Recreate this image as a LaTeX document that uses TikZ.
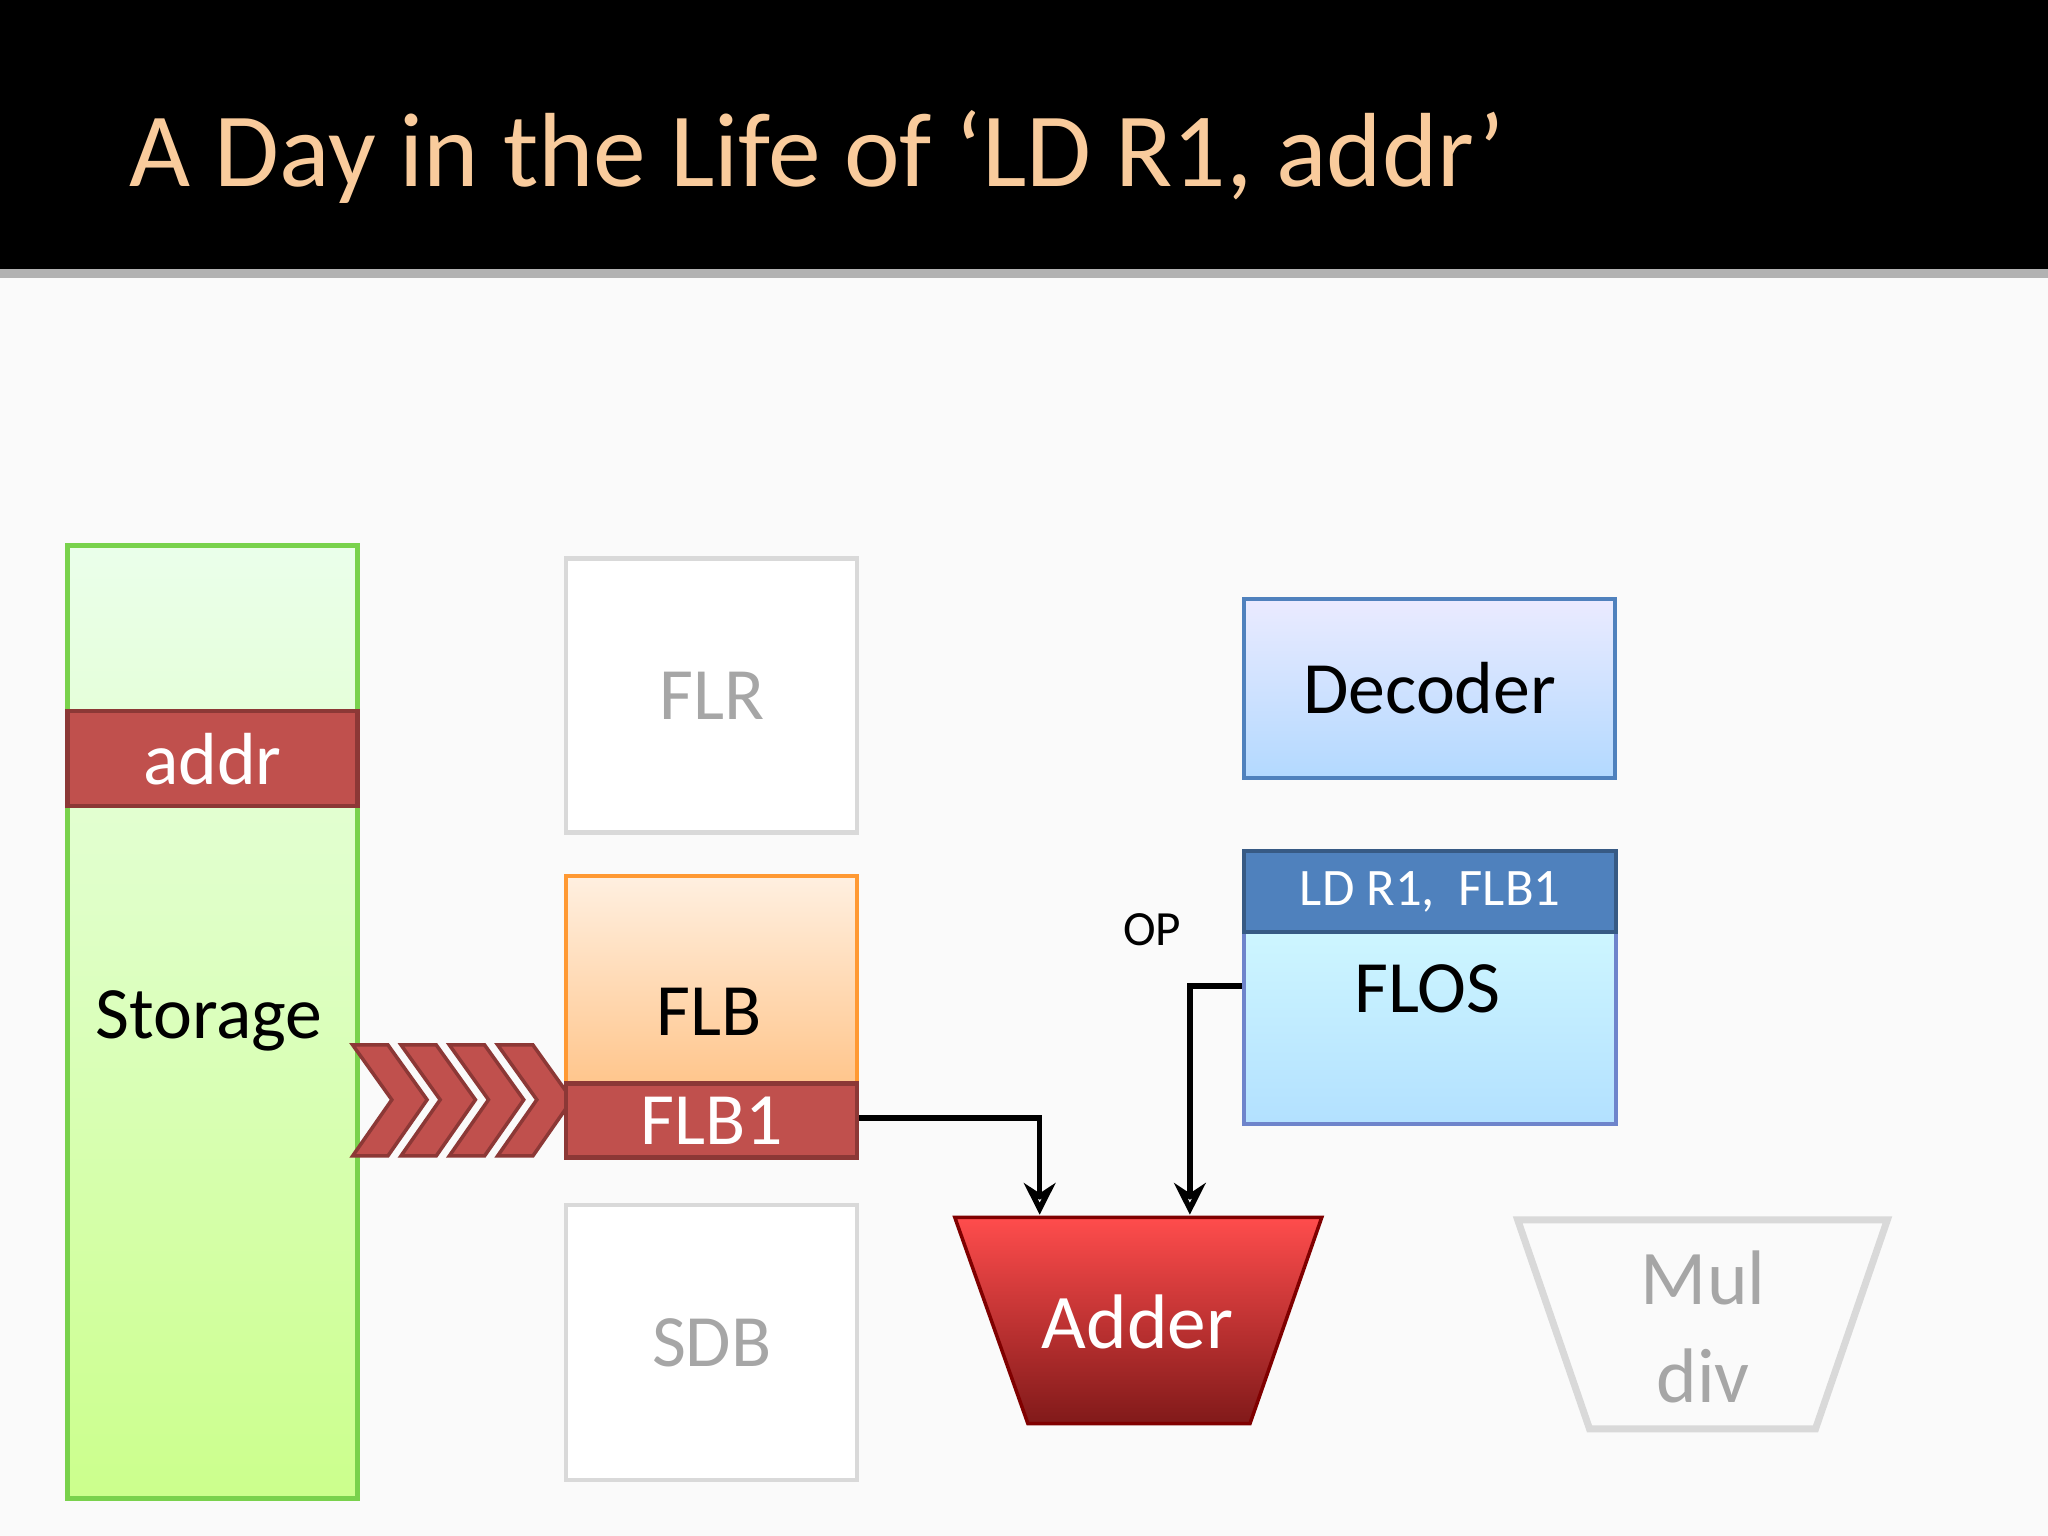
\documentclass[tikz,border=0pt]{standalone}
\usepackage{fontspec}
\setmainfont{Carlito}
\usetikzlibrary{arrows.meta}
\definecolor{titlefg}{HTML}{F9CB9C}
\definecolor{redfill}{HTML}{C0504D}
\definecolor{redline}{HTML}{8C3836}
\definecolor{greyline}{HTML}{D9D9D9}
\definecolor{greytext}{HTML}{A6A6A6}
\definecolor{blueline}{HTML}{4F81BD}

\tikzset{
  box/.style={draw,line width=1.2pt,anchor=north west,inner sep=0pt},
  redbox/.style={box,fill=redfill,draw=redline,text=white,font=\fontsize{21}{25}\selectfont},
  greybox/.style={box,draw=greyline,fill=white,text=greytext,font=\fontsize{21}{25}\selectfont},
  lbl/.style={font=\fontsize{21}{25}\selectfont},
  wire/.style={line width=1.6pt,-{Stealth[open,length=9pt,width=9pt]}}
}

\begin{document}
\begin{tikzpicture}[x=0.01306cm,y=-0.01306cm]
  \useasboundingbox (0,0) rectangle (1568,1176);
  \fill[white!98!black] (0,0) rectangle (1568,1176);
  \fill[black] (0,0) rectangle (1568,206);
  \fill[gray!60] (0,206) rectangle (1568,213);
  \node[anchor=west,text=titlefg,font=\fontsize{30}{36}\selectfont] (title) at (90,120) {A Day in the Life of ‘LD R1, addr’};

  % storage column
  \node[box,draw=green!50!olive!70,top color=green!8,bottom color=green!45!yellow!45,
        minimum width=2.9cm,minimum height=9.53cm] (storage) at (50,416) {};
  \node[lbl] (storagetxt) at (160,782) {Storage};
  \node[redbox,minimum width=2.9cm,minimum height=0.95cm] (addr) at (50,543) {addr};

  % buffers
  \node[greybox,minimum width=2.91cm,minimum height=2.74cm] (flr) at (432,426) {FLR};
  \node[box,draw=orange!80,top color=orange!12,bottom color=orange!45,minimum width=2.91cm,minimum height=2.08cm] (flb) at (432,669) {};
  \node[lbl] at (543,775) {FLB};
  \node[greybox,minimum width=2.91cm,minimum height=2.75cm] (sdb) at (432,921) {SDB};

  % chevrons
  \foreach \i in {0,1,2,3}
    \fill[redfill,draw=redline,line width=1pt]
      (270+37*\i,800) -- (297+37*\i,800) -- (327+37*\i,842) -- (297+37*\i,885) -- (270+37*\i,885) -- (300+37*\i,842) -- cycle;
  \node[redbox,minimum width=2.91cm,minimum height=0.74cm] (flb1) at (432,828) {FLB1};

  % decoder and FLOS
  \node[box,draw=blueline,top color=blue!8,bottom color=blue!50!cyan!30,minimum width=3.71cm,minimum height=1.79cm] (decoder) at (951,457) {};
  \node[lbl] at (decoder.center) {Decoder};
  \node[box,draw=cyan!30!blue!60,top color=cyan!15,bottom color=cyan!60!blue!30,minimum width=3.72cm,minimum height=2.73cm] (flos) at (951,650) {};
  \node[box,fill=blueline,draw=blueline!70!black,text=white,font=\fontsize{15}{19}\selectfont,minimum width=3.72cm,minimum height=0.81cm] (ldr) at (951,650) {LD R1,\ \ FLB1};
  \node[lbl] at (1093,757) {FLOS};
  \node[font=\fontsize{14}{17}\selectfont] (op) at (882,712) {OP};

  % functional units
  \path[top color=red!70!white,bottom color=red!45!black!90,draw=red!50!black,line width=1pt]
    (731,932) -- (1012,932) -- (957,1090) -- (787,1090) -- cycle;
  \node[text=white,font=\fontsize{22}{26}\selectfont] (adder) at (871,1012) {Adder};
  \draw[greyline,line width=2pt] (1162,934) -- (1445,934) -- (1390,1094) -- (1217,1094) -- cycle;
  \node[text=greytext,font=\fontsize{22}{28}\selectfont,align=center] (muldiv) at (1304,1016) {Mul\\div};

  \coordinate (addin1) at (796,930);
  \coordinate (addin2) at (911,930);
  \coordinate (flosin) at (951,755);
  \draw[wire] (flb1.east |- 0,856) -| (addin1);
  \draw[wire] (flosin) -| (addin2);
\end{tikzpicture}
\end{document}
